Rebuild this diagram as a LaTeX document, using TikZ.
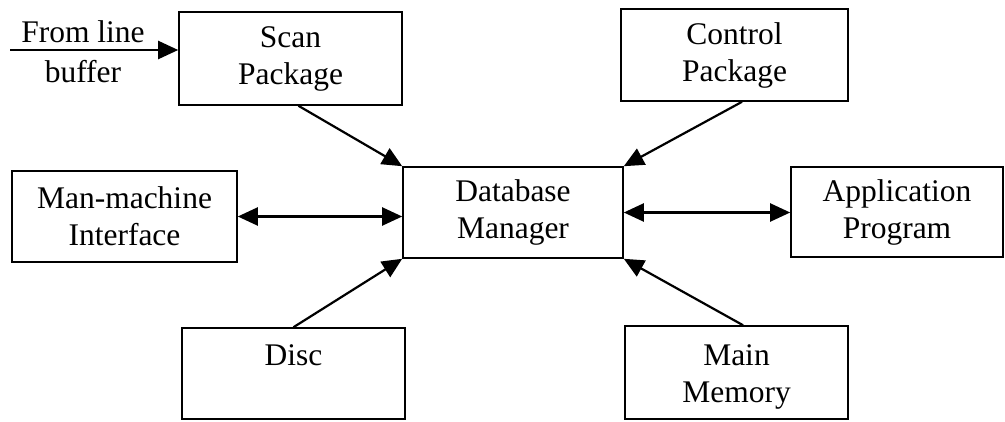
\documentclass[tikz,border=0pt]{standalone}
\usepackage{fontspec}
\setmainfont{Liberation Serif}
\usetikzlibrary{arrows.meta,calc}
\begin{document}
\begin{tikzpicture}[x=1pt,y=-1pt,
  txt/.style={align=center,inner sep=0pt,font=\fontsize{31.5}{37}\selectfont},
  box/.style={txt,draw,line width=1.6pt},
  tip/.tip={Triangle[length=20pt,width=18pt]},
  conn/.style={line width=2.2pt,-tip},
  biconn/.style={line width=2.2pt,tip-tip}]
\useasboundingbox (0,0) rectangle (1005,421);
\node[box,minimum width=223pt,minimum height=93pt] (scan) at (290.5,58.5) {Scan\\Package};
\node[box,minimum width=227pt,minimum height=92pt] (ctrl) at (734.5,55) {Control\\Package};
\node[box,minimum width=225pt,minimum height=91pt] (mmi) at (124.5,216.5) {Man-machine\\Interface};
\node[box,minimum width=220pt,minimum height=91pt] (db) at (513,212.5) {Database\\Manager};
\node[box,minimum width=212pt,minimum height=90pt] (app) at (897,212) {Application\\Program};
\node[box,minimum width=223pt,minimum height=91pt] (disc) at (293.5,373.5) {Disc\\\phantom{D}};
\node[box,minimum width=223pt,minimum height=93pt] (mem) at (736.5,372.5) {\rule{0pt}{30pt}Main\\Memory};
\node[txt] (src) at (83,52) {From line\\[3pt]buffer};
\coordinate (fromstart) at (10,50);
\draw[conn] (fromstart) -- (fromstart -| scan.west);
\draw[conn] ($(scan.south)+(8,0)$) -- (db.north west);
\draw[conn] ($(ctrl.south)+(7.5,0)$) -- (db.north east);
\draw[conn] (disc.north) -- (db.south west);
\draw[conn] ($(mem.north)+(6.5,0)$) -- (db.south east);
\draw[biconn] (mmi.east) -- (mmi.east -| db.west);
\draw[biconn] (db.east) -- (db.east -| app.west);
\end{tikzpicture}
\end{document}
